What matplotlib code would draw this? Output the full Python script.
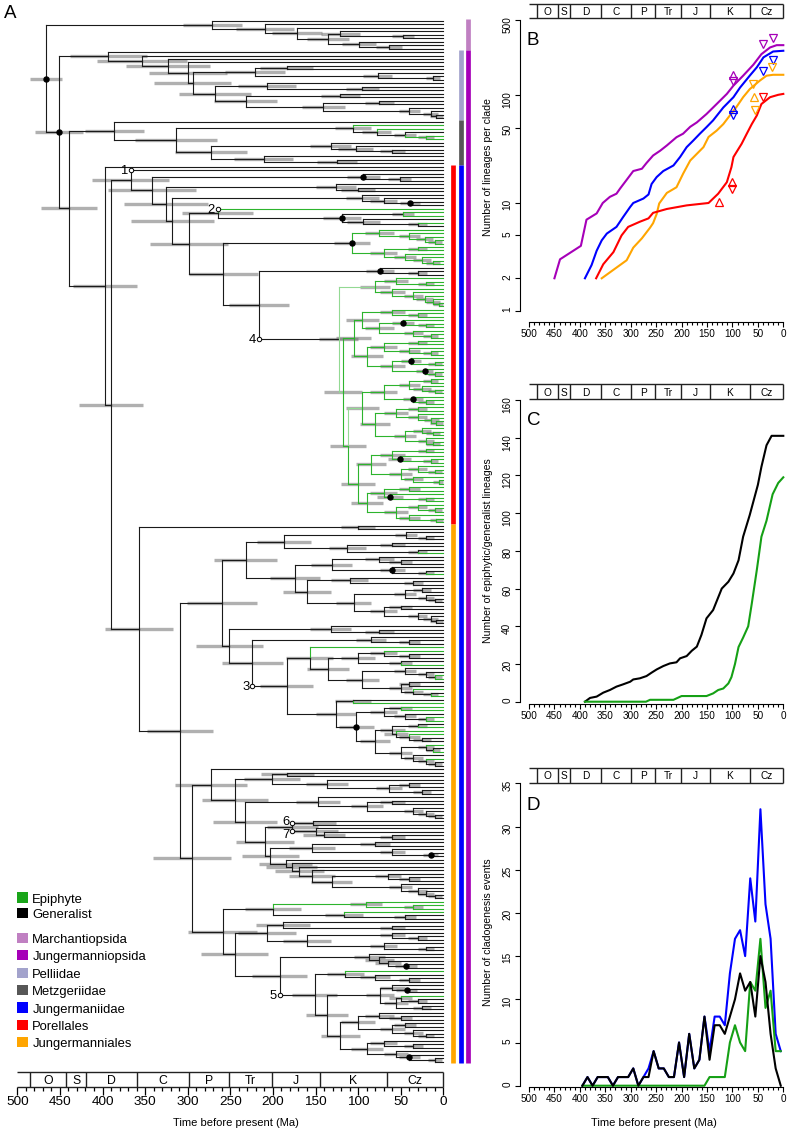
#! /usr/bin/env python3
# Liverwort chronogram (A) with lineage-through-time (B), epiphyte/generalist
# lineages (C) and cladogenesis events (D).

import re
import numpy as np
import matplotlib
matplotlib.use('Agg')
import matplotlib.pyplot as plt
from matplotlib.collections import LineCollection
from matplotlib.patches import Rectangle
from matplotlib.ticker import NullLocator

plt.rcParams['font.family'] = ['Liberation Sans', 'DejaVu Sans']

W, H = 789, 1132
GREEN = '#2db42d'
LIGHTGREEN = '#93d993'
BLACK = '#1a1a1a'
STRIP = '#222222'

# ---------------------------------------------------------------- tree data
# newick-like strings, node label = age (Ma)[~hpd half width] + flags
# flags: g epiphyte, k generalist, l light-green stem, * dot, oN numbered shift
MARCH = "(,(,(,((,(,)47)121,(,(,)64)99)135)172)209)271~35"
PELL = "(,(,(,(,(((,)184,(,(,)12)77)221,((,(,)95)207,((,)121,((,)75,(,(,(,)8)15)40)141)232)268)294)300)323)354)393~45"
METZ = "(,((g,(g,(,(,)20g)45)78)106,((,(,(,)60)103)132,(,(,)125)211)273)314)386~35"

D94 = "(,(,)51)94*"
M126 = "(,(,)100)126"
Q95 = "(,(,(,)39*)70)95"
C265 = "(go2,((g,g)47,(,(g,)30)94)119*)265"
P107 = "((,(,(,(,)10)22)40)75g,((,)30,(,(,(,)12)25)45)70g)107*"
E74 = "(,(,)30)74*"
U1 = "((,(,)20)55,(,(,(,(,(,)5)12)22)35)60)80l"
W1 = "(((,(,)30)60,((,(,)20)47*,(,(,)15)35)75)95,(((,)30,(,(,)15)40)70,((,(,)10)38*,(,(,)10)22*)60)90)105"
W2a = "((((,)15,(,(,)10)25)40,(,(,)20)36*)70,(((,)30,(,(,(,)8)14)30)55,((,(,)12)25,(,(,)12)20)45)80)95l"
W2b = "((((,)20,(,(,)15)51*)60,((,(,)10)30,(,(,)5)35)50)85,(((,)40,(,(,)20)63*)70,((,(,)10)30,(,(,)8)40)55)90)100"
W2 = "(" + W2a + "," + W2b + ")112"
WW = "(" + W1 + "," + W2 + ")118l"
G4 = "(" + U1 + "," + WW + ")123o4"
N216 = "(" + E74 + "," + G4 + ")216"
N258 = "(" + P107 + "," + N216 + ")258"
N298 = "(" + C265 + "," + N258 + ")298"
N318 = "(" + Q95 + "," + N298 + ")318"
N325 = "(" + M126 + "," + N318 + ")325"
A342 = "(" + D94 + "," + N325 + ")342"
PORELL = "(o1," + A342 + ")367~45"

J187 = "((,(,)20)44,((,)60,(,g)30)113)187"
J174 = "(((,(,)50)75,(,(,g)20)60*)131,((,(,)35)110,(((,)25,(,(,)10)20)45,((,)50,(,(,(,)8)15)30)70)105)160)174"
J232 = "(" + J187 + "," + J174 + ")232"
J157 = "(g,(((g,(,)40)70,(,g)50)100,((,(,(g,g)10)20)45,((,)40,(g,(,g)15)35)50)95)135)157"
J126 = "((,g)106,(((g,g)50,(,(g,g)20)45)70,(((,g)30,(g,(g,(,)25)40)55)60,((g,(,g)12)20,(,(g,(,)10)20)35)50)80)102*)126"
J184 = "(" + J157 + "," + J126 + ")184o3"
J224 = "((,(,)40)85," + J184 + ")224"
J251 = "((,(,)75)132," + J224 + ")251"
J260 = "(" + J232 + "," + J251 + ")260"
J201 = "((,)183,(,((,)40,(,)25)64)136)201"
J147 = "(,((,)60,(,(,(,)10)20)35)90)147"
J177 = "((,)153o6,(,(,(,)60)140)150o7)177"
J154 = "((,)80,(,(,)15*)60)154"
J185 = "(,(,(,(,((,(,)40)65,(,(,(,(,)10)20)30)50)131)154)169)178)185"
J203 = "(" + J154 + "," + J185 + ")203"
J209 = "(" + J177 + "," + J203 + ")209"
J233 = "(" + J147 + "," + J209 + ")233"
J244 = "(" + J201 + "," + J233 + ")244"
J273 = "(," + J244 + ")273"
J200 = "((g,(g,g)35)91g,(g,(,)45)117)200"
J207 = "((,(,)60)188,((,(,)30)60,(,(,)20)70)160)207"
J87 = "(,(,(,(,)44*)65)75)87"
J115 = "(g,(,(,)40)80)115"
J74 = "((,(,)43*)60,((g,(,)30)50,(,)25)55)74"
J121 = "(((,(,)50)75,((,)45,(,(,)20)35)60)100,((,(,)35)70,(,(,(,)10)40*)55)90)121"
J136 = "(" + J74 + "," + J121 + ")136"
J151 = "(" + J115 + "," + J136 + ")151o5"
J192 = "(" + J87 + "," + J151 + ")192"
J245 = "(" + J207 + "," + J192 + ")245"
J259 = "(" + J200 + "," + J245 + ")259"
J295 = "(" + J273 + "," + J259 + ")295"
J309 = "(" + J260 + "," + J295 + ")309~39"
JUNGM = "((,)100," + J309 + ")357~40"

TREE = ("(" + MARCH + ",(" + PELL + ",(" + METZ + ",(,(" + PORELL + "," + JUNGM +
        ")390~38)397~38)439~33)451~28*)466~19*")

# nudges for the numbered labels that sit close together
LABEL_DY = {'6': -0.7, '7': 0.7}

# clade bars at the tips
CLADE_NAMES = ['Marchantiopsida', 'Jungermanniopsida', 'Pelliidae', 'Metzgeriidae',
               'Jungermaniidae', 'Porellales', 'Jungermanniales']
CLADE_COLORS = ['#c080c2', '#a600b8', '#a3a3cc', '#575757', '#0000ff', '#ff0000', '#ffa500']
CLADE_RANK = ['class', 'class', 'subclass', 'subclass', 'subclass', 'order', 'order']
CLADE_FIRST = [0, 9, 9, 29, 42, 42, 145]
CLADE_LAST = [8, 299, 28, 41, 299, 144, 299]
BAR_X = {'order': -11.2, 'subclass': -20.3, 'class': -29.0}

# geological periods
PERIOD_EDGES = [485, 443, 419, 359, 299, 252, 201, 145, 66, 0]
PERIOD_NAMES = ['O', 'S', 'D', 'C', 'P', 'Tr', 'J', 'K', 'Cz']

# ---------------------------------------------------------------- panel B (lineages per clade)
jgp_t = [450, 439, 398, 387, 367, 355, 341, 328, 321, 308, 295, 278, 269, 256, 242, 229, 210,
         197, 183, 170, 151, 131, 111, 98, 79, 59, 43, 26, 13, 0]
jgp_n = [2, 3, 4, 7, 8, 10, 11.4, 12.2, 13.6, 16.4, 19.8, 20.8, 23.5, 27.6, 30.6, 34.2, 40.8,
         44, 51, 56, 67, 83, 103, 123, 152, 192, 241, 278, 292, 292]
jgd_t = [390, 377, 367, 357, 347, 328, 315, 301, 295, 275, 265, 259, 249, 236, 216, 203, 190,
         177, 164, 151, 138, 118, 98, 85, 66, 52, 39, 20, 0]
jgd_n = [2, 2.65, 3.6, 4.5, 5.2, 6, 7.4, 9.2, 10, 11, 12, 15, 17.4, 19.8, 22.3, 26.7, 33,
         38, 44, 50.6, 58.5, 77, 96, 118, 152, 182, 225, 255, 259]
jgm_t = [357, 308, 295, 278, 262, 256, 249, 244, 229, 210, 197, 183, 170, 157, 147, 131, 118,
         105, 92, 79, 66, 46, 33, 20, 0]
jgm_n = [2, 2.94, 3.85, 4.7, 5.9, 6.5, 7.9, 9.9, 12.4, 14, 18.7, 24.8, 28.6, 33, 41, 47, 54,
         65, 78, 96, 114, 137, 152, 155, 155]
por_t = [368, 354, 334, 318, 305, 282, 265, 256, 229, 190, 147, 128, 111, 102, 98, 92, 82,
         72, 62, 52, 43, 26, 10, 0]
por_n = [2, 2.7, 3.5, 5, 6, 6.7, 7.2, 8.1, 8.8, 9.5, 10, 12.2, 15.6, 21.5, 26.7, 29.7, 35.4,
         43.8, 54, 65, 83, 96, 101, 103]
# fossil constraint triangles
mk_clade = ['Jungermanniopsida'] * 4 + ['Jungermaniidae'] * 4 + ['Jungermanniales'] * 4 + ['Porellales'] * 4
mk_age = [98, 98, 39, 20, 98, 98, 39, 20, 59, 58, 56, 23, 127, 100, 100, 39]
mk_n = [155, 137, 299, 340, 75, 65, 169, 212, 127, 96, 73, 182, 10.2, 15.6, 13.6, 96]
mk_dir = ['^', 'v', 'v', 'v', '^', 'v', 'v', 'v', 'v', '^', 'v', 'v', '^', '^', 'v', 'v']

# ---------------------------------------------------------------- panel C (lineages)
gen_t = [390, 380, 367, 354, 341, 328, 315, 301, 295, 282, 269, 259, 249, 236, 223, 210, 203,
         190, 180, 170, 161, 151, 138, 121, 108, 98, 88, 79, 66, 59, 50, 43, 33, 23, 0]
gen_n = [0, 2, 2.7, 4.8, 6.2, 8, 9.2, 10.6, 11.8, 12.4, 13.6, 15.4, 17.1, 18.9, 20.3, 20.9, 23,
         24.2, 27, 29.2, 35.4, 44.2, 48.6, 60, 63.6, 68, 75, 87.5, 99, 106, 115, 124.6, 136, 141, 141]
epi_t = [390, 270, 262, 216, 200, 151, 138, 128, 118, 108, 102, 95, 88, 79, 69, 62, 52, 43, 33,
         21, 10, 0]
epi_n = [0, 0, 1, 1, 3, 3, 4.4, 6.2, 7, 9.7, 13, 20, 29, 34, 40, 52, 70, 87.5, 96, 110, 116, 119]

# ---------------------------------------------------------------- panel D (cladogenesis, 10 Ma bins)
bin_t = list(range(395, 0, -10))
all_ev = [0, 1, 0, 1, 1, 1, 0, 1, 1, 1, 2, 0, 1, 2, 4, 2, 2, 1, 1, 5, 1, 6, 2, 3, 8, 4, 8, 8, 7,
          13, 17, 18, 15, 24, 19, 32, 21, 17, 6, 4]
gen_ev = [0, 1, 0, 1, 1, 1, 0, 1, 1, 1, 2, 0, 1, 1, 4, 2, 2, 1, 1, 5, 1, 6, 2, 3, 8, 3, 7, 7, 6,
          8, 10, 13, 11, 12, 8, 15, 12, 6, 2, 0]
epi_ev = [0] * 25 + [1, 1, 1, 1, 5, 7, 5, 4, 12, 11, 17, 9, 11, 4, 4]

LEGEND_TRAITS = ['Epiphyte', 'Generalist']
LEGEND_TRAIT_COLORS = ['#19a519', '#000000']


# ---------------------------------------------------------------- helpers
def parse_newick(s):
    pos = 0

    def read():
        nonlocal pos
        kids = []
        if s[pos] == '(':
            pos += 1
            while True:
                kids.append(read())
                ch = s[pos]
                pos += 1
                if ch == ')':
                    break
        start = pos
        while pos < len(s) and s[pos] not in ',)':
            pos += 1
        m = re.match(r'([\d.]*)(?:~([\d.]+))?(.*)$', s[start:pos])
        return {'kids': kids,
                'age': float(m.group(1)) if m.group(1) else 0.0,
                'hpd': float(m.group(2)) if m.group(2) else None,
                'flags': m.group(3)}
    return read()


def place(nd, col, page, counter):
    f = nd['flags']
    if 'g' in f or 'l' in f:
        col = GREEN
    if 'k' in f:
        col = BLACK
    nd['col'] = col
    nd['stem'] = LIGHTGREEN if 'l' in f else col
    nd['page'] = page
    if nd['kids']:
        for k in nd['kids']:
            place(k, col, nd['age'], counter)
        nd['y'] = (nd['kids'][0]['y'] + nd['kids'][-1]['y']) / 2
    else:
        nd['y'] = next(counter)


def walk(nd):
    yield nd
    for k in nd['kids']:
        yield from walk(k)


fig = plt.figure(figsize=(W / 100, H / 100), dpi=100)


def px_axes(x0, y0, x1, y1):
    return fig.add_axes([x0 / W, 1 - y1 / H, (x1 - x0) / W, (y1 - y0) / H])


def ftext(x, y, s, **kw):
    fig.text(x / W, 1 - y / H, s, **kw)


def period_strip(rect, fs, lw):
    sa = px_axes(*rect)
    sa.set_xlim(500, 0)
    sa.set_ylim(0, 1)
    sa.patch.set_alpha(0)
    sa.hlines([0, 1], 500, 0, color=STRIP, lw=lw, clip_on=False)
    sa.vlines(PERIOD_EDGES, 0, 1, color=STRIP, lw=lw, clip_on=False)
    for nm, a, b in zip(PERIOD_NAMES, PERIOD_EDGES[:-1], PERIOD_EDGES[1:]):
        sa.text((a + b) / 2, 0.42, nm, ha='center', va='center', fontsize=fs)
    for sp in sa.spines.values():
        sp.set_visible(False)
    sa.set_yticks([])
    sa.set_xticks([])
    return sa


def right_panel(rect, bottom_off):
    a = px_axes(*rect)
    a.set_xlim(500, 0)
    a.patch.set_alpha(0)
    a.spines['top'].set_visible(False)
    a.spines['right'].set_visible(False)
    a.spines['left'].set_position(('outward', 6.5))
    a.spines['bottom'].set_position(('outward', bottom_off))
    a.spines['bottom'].set_bounds(0, 500)
    for sp in a.spines.values():
        sp.set_linewidth(0.8)
    a.set_xticks(np.arange(0, 501, 50))
    a.set_xticks(np.arange(0, 501, 10), minor=True)
    a.tick_params(axis='x', which='major', length=3.6, width=0.8, labelsize=7.2, pad=1.5)
    a.tick_params(axis='x', which='minor', length=2.0, width=0.8)
    a.tick_params(axis='y', which='major', length=3.6, width=0.8, labelsize=7.2, pad=2,
                  labelrotation=90)
    a.tick_params(axis='y', which='minor', length=0)
    return a


# ---------------------------------------------------------------- A: tree
tree = parse_newick(TREE)
place(tree, BLACK, None, iter(range(10000)))
nodes = list(walk(tree))

ax = px_axes(17.3, 20.7, 443.3, 1061.7)
ax.set_xlim(500, 0)
ax.set_ylim(299, 0)
ax.set_axis_off()

segs, cols = [], []
for nd in nodes:
    for k in nd['kids']:
        segs.append([(nd['age'], nd['y']), (nd['age'], k['y'])])
        cols.append(k['stem'])
        segs.append([(nd['age'], k['y']), (k['age'], k['y'])])
        cols.append(k['stem'])
lc = LineCollection(segs, colors=cols, linewidths=0.8, zorder=3, capstyle='projecting')
lc.set_clip_on(False)
ax.add_collection(lc)

inner = [nd for nd in nodes if nd['kids']]
hpd = np.array([nd['hpd'] if nd['hpd'] is not None else 0.13 * nd['age'] + 7 for nd in inner])
ages = np.array([nd['age'] for nd in inner])
ys = np.array([nd['y'] for nd in inner])
ax.hlines(ys, ages + hpd, np.maximum(ages - hpd, 0), color='#707070', lw=2.4, alpha=0.55,
          zorder=2, clip_on=False)

for nd in nodes:
    if '*' in nd['flags']:
        ax.plot(nd['age'], nd['y'], 'o', ms=3.6, color='black', zorder=5, clip_on=False)
    m = re.search(r'o(\d+)', nd['flags'])
    if m:
        num = m.group(1)
        ax.plot(nd['page'], nd['y'], 'o', ms=3.2, mfc='white', mec='black', mew=0.7,
                zorder=6, clip_on=False)
        ax.text(nd['page'] + 3.5, nd['y'] + 0.3 + LABEL_DY.get(num, 0), num, ha='right',
                va='center', fontsize=9.4, zorder=6)

for name, colr, rank, a, b in zip(CLADE_NAMES, CLADE_COLORS, CLADE_RANK, CLADE_FIRST, CLADE_LAST):
    ax.vlines(BAR_X[rank], a - 0.5, b + 0.5, color=colr, lw=3.4, clip_on=False)

# time strip and axis for the tree
ts = period_strip((17.3, 1072.3, 443.3, 1086.7), 8.8, 1.0)
ts.set_xticks(np.arange(0, 501, 50))
ts.set_xticks(np.arange(0, 501, 10), minor=True)
ts.tick_params(axis='x', which='major', length=5.8, width=0.9, labelsize=9.7, pad=1.2)
ts.tick_params(axis='x', which='minor', length=3.0, width=0.9)
ftext(235.6, 1122.7, 'Time before present (Ma)', ha='center', va='center', fontsize=8)
ftext(3.5, 18.3, 'A', fontsize=13.5, va='baseline')

# legend
leg_labels = LEGEND_TRAITS + CLADE_NAMES
leg_colors = LEGEND_TRAIT_COLORS + CLADE_COLORS
leg_y = [892.3, 907.7, 932.7, 950.0, 967.7, 985.0, 1002.3, 1019.7, 1037.0]
for lab, colr, y0 in zip(leg_labels, leg_colors, leg_y):
    fig.add_artist(Rectangle((17.3 / W, 1 - (y0 + 10.4) / H), 10.4 / W, 10.4 / H,
                             transform=fig.transFigure, color=colr, lw=0))
    ftext(32.3, y0 + 10.4, lab, fontsize=9.4, va='baseline')

# ---------------------------------------------------------------- B
axb = right_panel((529, 20, 783.3, 310.7), 7.9)
axb.set_yscale('log')
axb.set_ylim(1, 500)
axb.set_yticks([1, 2, 5, 10, 50, 100, 500], labels=['1', '2', '5', '10', '50', '100', '500'])
axb.yaxis.set_minor_locator(NullLocator())
axb.spines['left'].set_bounds(1, 500)
clade_col = dict(zip(CLADE_NAMES, CLADE_COLORS))
for t, n, nm in [(jgp_t, jgp_n, 'Jungermanniopsida'), (jgd_t, jgd_n, 'Jungermaniidae'),
                 (jgm_t, jgm_n, 'Jungermanniales'), (por_t, por_n, 'Porellales')]:
    axb.plot(t, n, color=clade_col[nm], lw=1.5, clip_on=False)
for nm, a, n, d in zip(mk_clade, mk_age, mk_n, mk_dir):
    axb.plot(a, n, d, ms=6, mfc='none', mec=clade_col[nm], mew=0.9, clip_on=False)
period_strip((529, 4, 783.3, 18.3), 7.3, 1.0)
ftext(527, 45, 'B', fontsize=13.5, va='baseline')
ftext(488.3, 166.7, 'Number of lineages per clade', rotation=90, ha='center', va='center',
      fontsize=7.6)

# ---------------------------------------------------------------- C
axc = right_panel((529, 400, 783.3, 701.7), 1.3)
axc.set_ylim(0, 160)
axc.set_yticks(np.arange(0, 161, 20))
axc.spines['left'].set_bounds(0, 160)
axc.plot(gen_t, gen_n, color='black', lw=1.5, clip_on=False)
axc.plot(epi_t, epi_n, color='#15a015', lw=1.5, clip_on=False)
period_strip((529, 384, 783.3, 399), 7.3, 1.0)
ftext(527, 425, 'C', fontsize=13.5, va='baseline')
ftext(488.3, 550.8, 'Number of epiphytic/generalist lineages', rotation=90, ha='center',
      va='center', fontsize=7.6)

# ---------------------------------------------------------------- D
axd = right_panel((529, 783.3, 783.3, 1085.7), 1.2)
axd.set_ylim(0, 35)
axd.set_yticks(np.arange(0, 36, 5))
axd.spines['left'].set_bounds(0, 35)
axd.plot(bin_t, all_ev, color='#0000ff', lw=1.5, clip_on=False)
axd.plot(bin_t, epi_ev, color='#15a015', lw=1.5, clip_on=False)
axd.plot(bin_t, gen_ev, color='black', lw=1.5, clip_on=False)
period_strip((529, 767.7, 783.3, 782.7), 7.3, 1.0)
ftext(527, 810, 'D', fontsize=13.5, va='baseline')
ftext(488.3, 932.5, 'Number of cladogenesis events', rotation=90, ha='center', va='center',
      fontsize=7.6)
ftext(654, 1122.7, 'Time before present (Ma)', ha='center', va='center', fontsize=8)

fig.savefig('out.png', dpi=100)
